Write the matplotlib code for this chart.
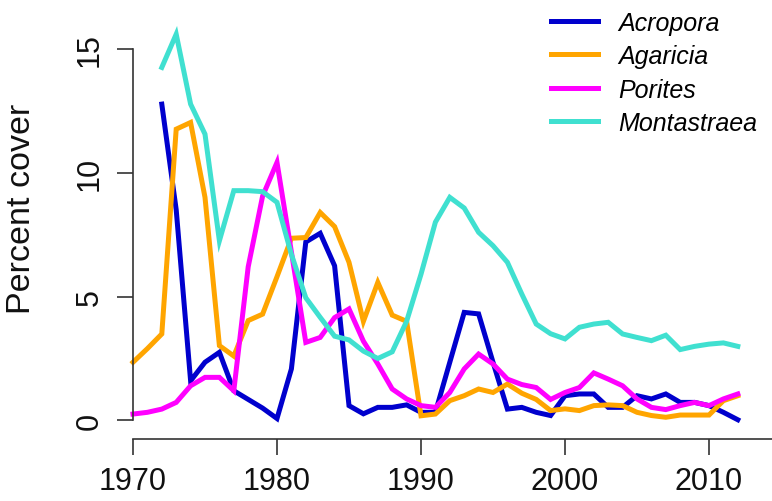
import numpy as np
import matplotlib
matplotlib.use("Agg")
import matplotlib.pyplot as plt

plt.rcParams['font.family'] = ['Liberation Sans', 'DejaVu Sans']

years = np.arange(1970, 2013)
nan = np.nan

acropora = [nan, nan, 12.76, 8.5, 1.6, 2.35, 2.75, 1.2, 0.85, 0.5,
            0.08, 2.08, 7.2, 7.55, 6.24, 0.6, 0.27, 0.53, 0.53, 0.63,
            0.33, 0.33, 2.35, 4.36, 4.3, 2.35, 0.46, 0.53, 0.33, 0.2,
            1.0, 1.07, 1.07, 0.53, 0.53, 1.0, 0.87, 1.07, 0.73, 0.73,
            0.6, 0.33, 0.03]
agaricia = [2.35, 2.9, 3.49, 11.75, 12.02, 9.0, 3.02, 2.6, 4.03, 4.29,
            5.8, 7.35, 7.38, 8.39, 7.82, 6.38, 4.0, 5.57, 4.25, 4.0,
            0.19, 0.26, 0.8, 1.0, 1.27, 1.13, 1.47, 1.1, 0.85, 0.4,
            0.47, 0.4, 0.6, 0.63, 0.6, 0.33, 0.2, 0.13, 0.22, 0.22,
            0.22, 0.8, 1.0]
porites = [0.26, 0.33, 0.46, 0.73, 1.4, 1.74, 1.74, 1.2, 6.2, 9.05,
           10.41, 6.8, 3.15, 3.35, 4.15, 4.5, 3.2, 2.28, 1.27, 0.87,
           0.6, 0.53, 1.13, 2.08, 2.68, 2.28, 1.67, 1.45, 1.33, 0.85,
           1.13, 1.33, 1.92, 1.67, 1.4, 0.87, 0.53, 0.44, 0.6, 0.73,
           0.6, 0.87, 1.07]
montastraea = [nan, nan, 14.24, 15.58, 12.76, 11.55, 7.25, 9.27, 9.27, 9.23,
               8.8, 6.7, 4.95, 4.16, 3.4, 3.25, 2.8, 2.5, 2.77, 4.0,
               5.9, 8.0, 9.0, 8.57, 7.59, 7.05, 6.38, 5.1, 3.89, 3.5,
               3.29, 3.76, 3.89, 3.96, 3.49, 3.35, 3.22, 3.44, 2.86, 2.99,
               3.08, 3.13, 2.99]

names = ['Acropora', 'Agaricia', 'Porites', 'Montastraea']
series = [acropora, agaricia, porites, montastraea]
colors = ['#0000CD', '#FFA500', '#FF00FF', '#40E0D0']

fig = plt.figure(figsize=(7.72, 5.02), dpi=100)
ax = fig.add_axes([133/772, 62.5/502, 639/772, 439.5/502])

for name, vals, col in zip(names, series, colors):
    ax.plot(years, vals, color=col, lw=3.6, label=name, clip_on=False,
            solid_joinstyle='miter')

ax.set_xlim(1970, 1970 + 639/14.4)
ax.set_ylim(-0.726, 17.0)

for s in ['top', 'right']:
    ax.spines[s].set_visible(False)
for s in ['left', 'bottom']:
    ax.spines[s].set_color('#333333')
    ax.spines[s].set_linewidth(1.2)
ax.spines['left'].set_bounds(0, 15)

ax.set_xticks([1970, 1980, 1990, 2000, 2010])
ax.set_yticks([0, 5, 10, 15])
ax.tick_params(axis='both', direction='out', length=11.5, width=1.2,
               color='#333333', labelsize=22, labelcolor='#111111')
ax.tick_params(axis='x', pad=8)
ax.tick_params(axis='y', pad=9)
for lab in ax.get_yticklabels():
    lab.set_rotation(90)
    lab.set_va('center')

ax.set_ylabel('Percent cover', fontsize=24.5, color='#111111', va='center')
ax.yaxis.set_label_coords((22 - 133) / 639, 0.5245)

# legend top right, no box
ax.legend(loc='upper left', bbox_to_anchor=(533/772, 1.0 + 6/502),
          bbox_transform=fig.transFigure, frameon=False,
          prop={'style': 'italic', 'size': 18}, handlelength=1.9,
          handletextpad=0.8, labelspacing=0.38, borderpad=0.2)

fig.savefig('out.png', dpi=100)
